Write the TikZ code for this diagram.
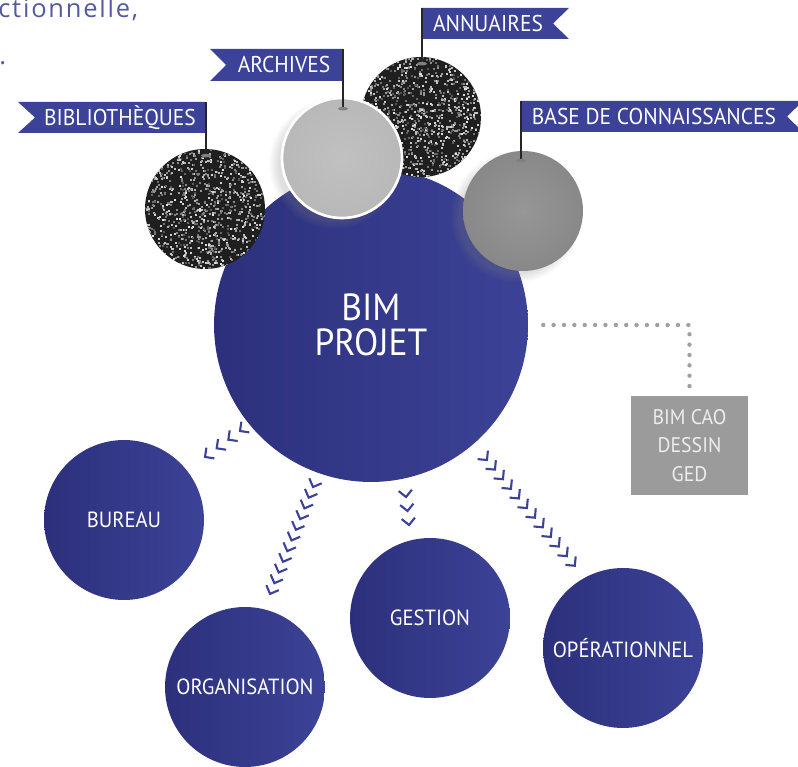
\documentclass[tikz,border=0pt]{standalone}
\usepackage{fontspec}
\setmainfont{PT Sans}[FakeStretch=0.94]
\newfontfamily\pagefont[LetterSpace=7]{Open Sans}
\usetikzlibrary{calc,decorations.markings,shadows}

\definecolor{bimdark}{RGB}{44,48,124}
\definecolor{bimlight}{RGB}{60,66,150}
\definecolor{flagblue}{RGB}{60,66,152}
\definecolor{pageblue}{RGB}{84,89,162}
\definecolor{boxgray}{RGB}{155,155,155}
\definecolor{dotgray}{RGB}{160,160,160}
\definecolor{archgray}{RGB}{184,184,184}
\definecolor{basegray}{RGB}{136,136,136}

\begin{document}
\begin{tikzpicture}[x=0.02cm, y=-0.02cm,
  bigcirc/.style={circle, inner sep=0pt, minimum size=6.28cm, left color=bimdark, right color=bimlight,
    text=white, align=center, font=\fontsize{21.5}{19.8}\selectfont},
  smallcirc/.style={circle, inner sep=0pt, minimum size=3.2cm, left color=bimdark, right color=bimlight,
    text=white, font=\fontsize{12.5}{15}\selectfont},
  darkball/.style={circle, inner sep=0pt, minimum size=2.4cm, fill=black!88, path picture={
      \foreach \i in {1,...,1100}{
        \pgfmathsetmacro\g{30+60*rnd}
        \fill[white!\g!black] ($(path picture bounding box.center)+(rand*62,rand*62)$) rectangle +(2,2);
      }}},
  greyball/.style={circle, inner sep=0pt, minimum size=2.4cm, inner color=#1!88!white, outer color=#1,
    circular drop shadow={shadow xshift=-4pt, shadow yshift=-3pt, opacity=0.25}},
  chev/.style={draw=flagblue, line width=1.2pt},
  chevrow/.style={decorate, decoration={markings,
      mark=between positions 0 and 1 step #1 with {\draw[chev] (-3.8pt,3.8pt) -- (0,0) -- (-3.8pt,-3.8pt);}}},
  dotline/.style={draw=dotgray, line width=2.5pt, line cap=round, dash pattern=on 0pt off 5.9pt},
  infobox/.style={rectangle, fill=boxgray, minimum width=2.34cm, minimum height=1.98cm,
    text=white!93!black, align=center, font=\fontsize{12}{16.2}\selectfont},
  flagtext/.style={text=white, inner sep=0pt, font=\fontsize{13}{14}\selectfont},
  pole/.style={line width=1.7pt, draw=black!85},
  pagetext/.style={text=pageblue, inner sep=0pt, font=\pagefont\fontsize{14.5}{16}\selectfont}]

\useasboundingbox (0,0) rectangle (798,767);
\clip (0,0) rectangle (798,767);

% page text cut off at the top
\node[pagetext, anchor=base west] (line1) at (-2,18) {ctionnelle,};
\node[pagetext, anchor=base west] (line2) at (-1,65) {.};

% circles
\node[bigcirc] (bim) at (371,325) {BIM\\PROJET};
\node[smallcirc] (bureau) at (124,520) {BUREAU};
\node[smallcirc] (organisation) at (245,687) {ORGANISATION};
\node[smallcirc] (gestion) at (430,618) {GESTION};
\node[smallcirc] (operationnel) at (623,648) {OPÉRATIONNEL};

% chevron rows
\coordinate (c1a) at (240,431); \coordinate (c1b) at (205,457);
\coordinate (c2a) at (313,487); \coordinate (c2b) at (270,594);
\coordinate (c3a) at (406,497); \coordinate (c3b) at (409,525);
\coordinate (c4a) at (487,460); \coordinate (c4b) at (575,566);
\path[chevrow=0.3333] (c1a) -- (c1b);
\path[chevrow=0.0999] (c2a) -- (c2b);
\path[chevrow=0.4999] (c3a) -- (c3b);
\path[chevrow=0.0909] (c4a) -- (c4b);

% side box
\node[infobox] (cao) at (689.5,445.5) {BIM CAO\\DESSIN\\GED};
\draw[dotline, shorten <=8.5pt, shorten >=4.5pt] (bim.east) -| (cao.north);

% spheres
\pgfmathsetseed{42}
\node[darkball] (bib) at (205,209) {};
\node[darkball] (annu) at (421,117) {};
\node[greyball=basegray] (base) at (523,211) {};
\node[greyball=archgray, draw=white, line width=1.5pt] (arch) at (342,158) {};

% flags
\coordinate (pbib) at (206,102);
\fill[flagblue] (pbib) -- ++(0,31) -- ++(-188,0) -- ++(17,-15.5) -- ++(-17,-15.5) -- cycle;
\draw[pole] (pbib) -- ($(bib.north)+(1,7)$);
\fill[gray] ($(bib.north)+(1,7)$) ellipse (5 and 1.8);
\node[flagtext] (fbib) at (120,117.5) {BIBLIOTHÈQUES};

\coordinate (parch) at (343,49);
\fill[flagblue] (parch) -- ++(0,32) -- ++(-133,0) -- ++(16,-16) -- ++(-16,-16) -- cycle;
\draw[pole] (parch) -- ($(arch.north)+(1,12)$);
\fill[gray] ($(arch.north)+(1,12)$) ellipse (5 and 1.8);
\node[flagtext] (farch) at (284,65) {ARCHIVES};

\coordinate (pannu) at (422,8);
\fill[flagblue] (pannu) -- ++(147,0) -- ++(-16,15.5) -- ++(16,15.5) -- ++(-147,0) -- cycle;
\draw[pole] (pannu) -- ($(annu.north)+(1,7)$);
\fill[gray] ($(annu.north)+(1,7)$) ellipse (5 and 1.8);
\node[flagtext] (fannu) at (488,23.5) {ANNUAIRES};

\coordinate (pbase) at (521,101);
\fill[flagblue] (pbase) -- ++(282,0) -- ++(-16,15.5) -- ++(16,15.5) -- ++(-282,0) -- cycle;
\draw[pole] (pbase) -- ($(base.north)+(-2,10)$);
\fill[gray] ($(base.north)+(-2,10)$) ellipse (5 and 1.8);
\node[flagtext] (fbase) at (654,116.5) {BASE DE CONNAISSANCES};
\end{tikzpicture}
\end{document}
